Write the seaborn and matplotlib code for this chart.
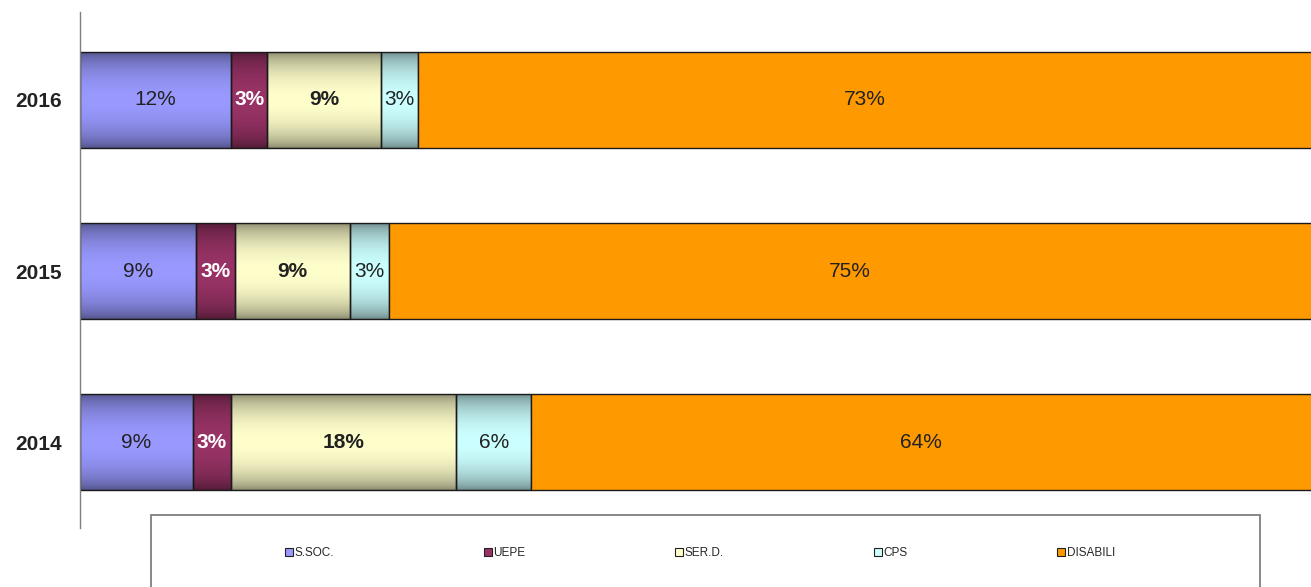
import numpy as np
import matplotlib
matplotlib.use("Agg")
import matplotlib.pyplot as plt
import matplotlib.colors as mcolors
import seaborn as sns
from matplotlib.patches import Patch, Rectangle

# ---- data ----
years = ["2016", "2015", "2014"]
categories = ["S.SOC.", "UEPE", "SER.D.", "CPS", "DISABILI"]
s_soc = [12.0, 9.2, 9.0]
uepe = [2.9, 3.1, 3.0]
ser_d = [9.0, 9.2, 17.9]
cps = [3.0, 3.1, 6.0]
disabili = [73.1, 75.4, 64.1]

series = [s_soc, uepe, ser_d, cps, disabili]
colors = ["#9999FF", "#993366", "#FFFFCC", "#CCFFFF", "#FF9900"]
label_colors = ["#222222", "#FFFFFF", "#222222", "#222222", "#222222"]
label_weights = ["normal", "bold", "bold", "normal", "normal"]
gradient = [True, True, True, True, False]

sns.set_theme(style="white")
plt.rcParams["font.family"] = ["Liberation Sans", "DejaVu Sans"]

W, H = 1311, 587
fig = plt.figure(figsize=(W / 100, H / 100), dpi=100)
fig.patch.set_facecolor("white")
ax = fig.add_axes([80 / W, 1 - 528 / H, 1 - 80 / W, (528 - 12) / H])

t = np.linspace(0, 1, 120)
prof = 0.52 + 0.48 * np.sin(np.pi * t) ** 0.6

left = np.zeros(len(years))
for vals, col, lc, lw_, grad in zip(series, colors, label_colors, label_weights, gradient):
    vals = np.asarray(vals, dtype=float)
    sns.barplot(x=vals, y=years, order=years, orient="y", color=col,
                saturation=1, left=left, width=0.56, edgecolor="#1a1a1a",
                linewidth=1.0, errorbar=None, ax=ax)
    cont = ax.containers[-1]
    if grad:
        rgb = np.array(mcolors.to_rgb(col))
        img = np.clip(rgb[None, :] * prof[:, None], 0, 1)[:, None, :]
        for p in cont.patches:
            x0, y0 = p.get_x(), p.get_y()
            w, h = p.get_width(), p.get_height()
            im = ax.imshow(img, extent=[x0, x0 + w, y0 + h, y0], aspect="auto",
                           interpolation="bilinear", zorder=2)
            im.set_clip_path(p)
            p.set_facecolor("none")
            p.set_zorder(2.5)
    else:
        for p in cont.patches:
            p.set_zorder(2.5)
    txts = ax.bar_label(cont, labels=[f"{v:.0f}%" for v in vals], label_type="center",
                        color=lc, fontweight=lw_, fontsize=15)
    for tx in txts:
        tx.set_zorder(5)
    left = left + vals

ax.set_xlim(0, 97.9)
ax.set_ylim(2.5, -0.514)
ax.set_xlabel("")
ax.set_ylabel("")
ax.set_xticks([])
for s in ["top", "right", "bottom"]:
    ax.spines[s].set_visible(False)
ax.spines["left"].set_color("#7f7f7f")
ax.spines["left"].set_linewidth(1.0)
ax.tick_params(axis="y", length=0, pad=13)
for lab in ax.get_yticklabels():
    lab.set_fontweight("bold")
    lab.set_fontsize(15)
    lab.set_color("#222222")

# legend frame
fig.add_artist(Rectangle((151 / W, -0.05), (1260 - 151) / W, 1 - 515 / H + 0.05,
                         transform=fig.transFigure, fill=False,
                         edgecolor="#7f7f7f", linewidth=1.3))
handles = [Patch(facecolor=c, edgecolor="#222222", linewidth=0.8) for c in colors]
fig.legend(handles, categories, loc="center", bbox_to_anchor=(700 / W, 1 - 553 / H),
           ncol=5, frameon=False, fontsize=8.5, handlelength=0.65, handleheight=0.65,
           handletextpad=0.15, columnspacing=12.7)

fig.savefig("out.png", dpi=100, facecolor="white")
